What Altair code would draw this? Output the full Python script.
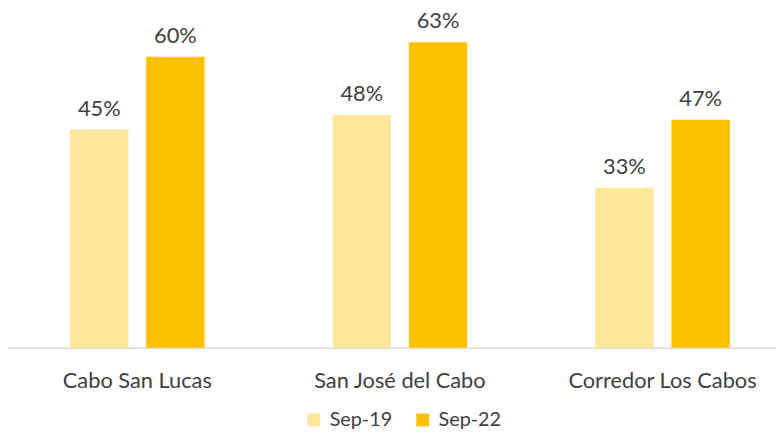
import altair as alt
import pandas as pd

categories = ["Cabo San Lucas", "San José del Cabo", "Corredor Los Cabos"]
series = ["Sep-19", "Sep-22"]
sep19 = [0.45, 0.48, 0.33]
sep22 = [0.60, 0.63, 0.47]
colors = ["#FFE699", "#FFC000"]

rows = []
for c, a, b in zip(categories, sep19, sep22):
    rows.append({"cat": c, "serie": series[0], "val": a})
    rows.append({"cat": c, "serie": series[1], "val": b})
df = pd.DataFrame(rows)

FONT = "Lato"
TXT = "#404040"
FS = 22

x = alt.X("cat:N", sort=categories, title=None,
          scale=alt.Scale(paddingInner=0, paddingOuter=0, range=[-2, 794]),
          axis=alt.Axis(labelAngle=0, ticks=False, domainColor="#D9D9D9", domainWidth=1.5,
                        labelFont=FONT, labelFontSize=FS, labelColor=TXT, labelLimit=400,
                        labelBaseline="alphabetic", labelPadding=40, grid=False))
xo = alt.XOffset("serie:N", sort=series,
                 scale=alt.Scale(paddingInner=0.213, paddingOuter=0.83))
y = alt.Y("val:Q", scale=alt.Scale(domain=[0, 0.696]), axis=None)
color = alt.Color("serie:N", sort=series,
                  scale=alt.Scale(domain=series, range=colors),
                  legend=alt.Legend(title=None, orient="none", direction="horizontal",
                                    legendX=299, legendY=404, symbolType="square",
                                    symbolSize=169, symbolStrokeWidth=0,
                                    labelFont=FONT, labelFontSize=20, labelColor=TXT,
                                    columnPadding=20, labelOffset=6))

base = alt.Chart(df).encode(x=x, xOffset=xo, y=y)
bars = base.mark_bar(size=59).encode(color=color)
labels = base.mark_text(baseline="alphabetic", dy=-14, font=FONT, fontSize=FS, color=TXT).encode(
    text=alt.Text("val:Q", format=".0%"))

chart = (bars + labels).properties(
    width=776, height=341,
    padding={"left": 0, "top": 0, "right": 0, "bottom": 85},
    autosize=alt.AutoSizeParams(type="none"),
).configure_view(stroke=None)
chart.save("out.html", embed_options={"renderer": "svg", "actions": False})
